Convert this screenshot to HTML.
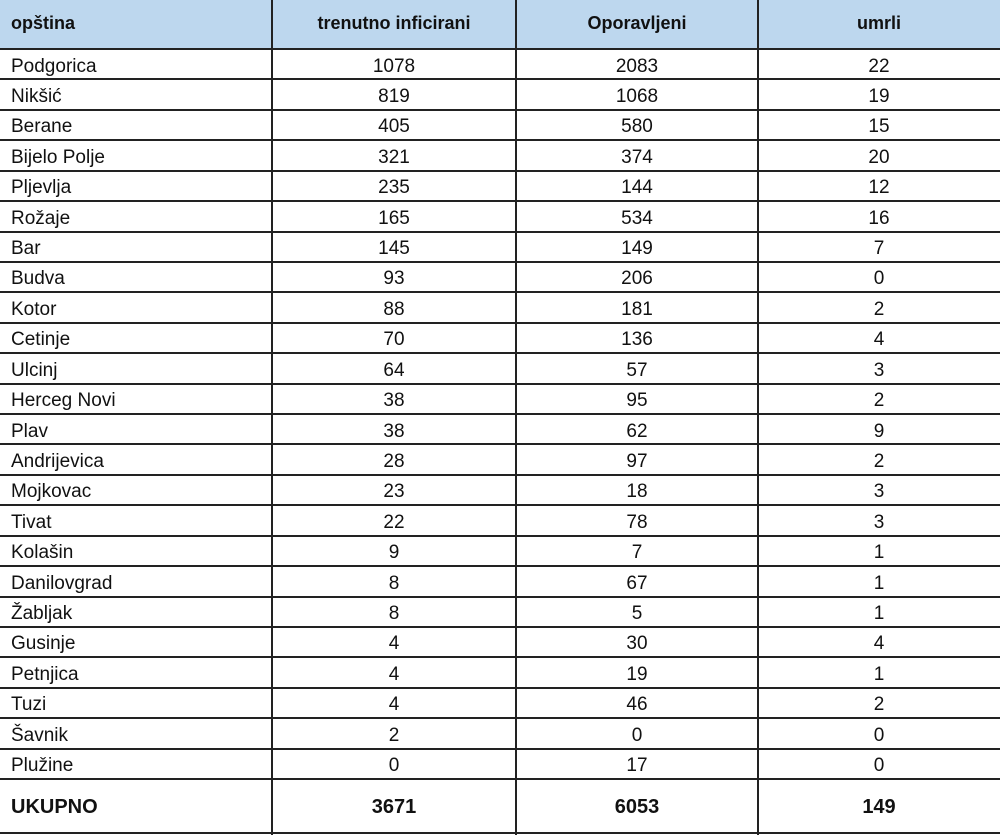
<!DOCTYPE html>
<html><head><meta charset="utf-8"><style>
body{margin:0;width:1000px;height:835px;background:#fff;overflow:hidden;font-family:"Liberation Sans",sans-serif;color:#111}
.h{position:absolute;left:0;top:0;width:1000px;height:49px;background:#bdd7ee}
.hl{position:absolute;left:0;width:1000px;height:2px;background:#222}
.vl{position:absolute;top:0;width:2px;height:835px;background:#222}
.c{position:absolute;font-size:19px;line-height:30px;white-space:nowrap}
.n{text-align:center}
.b{font-weight:bold}
</style></head><body>
<div class="h"></div>
<div id="t"></div>
<script>
var rows=[["Podgorica",1078,2083,22],["Nikšić",819,1068,19],["Berane",405,580,15],["Bijelo Polje",321,374,20],["Pljevlja",235,144,12],["Rožaje",165,534,16],["Bar",145,149,7],["Budva",93,206,0],["Kotor",88,181,2],["Cetinje",70,136,4],["Ulcinj",64,57,3],["Herceg Novi",38,95,2],["Plav",38,62,9],["Andrijevica",28,97,2],["Mojkovac",23,18,3],["Tivat",22,78,3],["Kolašin",9,7,1],["Danilovgrad",8,67,1],["Žabljak",8,5,1],["Gusinje",4,30,4],["Petnjica",4,19,1],["Tuzi",4,46,2],["Šavnik",2,0,0],["Plužine",0,17,0]];
var cols=[[0,272],[272,516],[516,758],[758,1000]];
var h='';
function cell(txt,ci,top,hgt,cls,fs){
 var l=cols[ci][0],w=cols[ci][1]-cols[ci][0];
 if(ci==0) h+='<div class="c '+cls+'" style="left:11px;top:'+top+'px;line-height:'+hgt+'px;font-size:'+fs+'px">'+txt+'</div>';
 else h+='<div class="c n '+cls+'" style="left:'+l+'px;width:'+w+'px;top:'+top+'px;line-height:'+hgt+'px;font-size:'+fs+'px">'+txt+'</div>';
}
var hd=["opština","trenutno inficirani","Oporavljeni","umrli"];
hd.forEach(function(t,i){cell(t,i,-1,48,'b',18)});
h+='<div class="hl" style="top:48px"></div>';
var rh=730/24;
rows.forEach(function(r,j){
 var top=49+j*rh;
 r.forEach(function(v,i){cell(v,i,top+2.5,rh,'',19)});
 h+='<div class="hl" style="top:'+Math.round(top+rh-1)+'px"></div>';
});
var tot=["UKUPNO",3671,6053,149];
tot.forEach(function(v,i){cell(v,i,780,54,'b',20)});
h+='<div class="hl" style="top:832px"></div>';
[271,515,757].forEach(function(x){h+='<div class="vl" style="left:'+x+'px"></div>'});
document.getElementById('t').innerHTML=h;
</script>
</body></html>
